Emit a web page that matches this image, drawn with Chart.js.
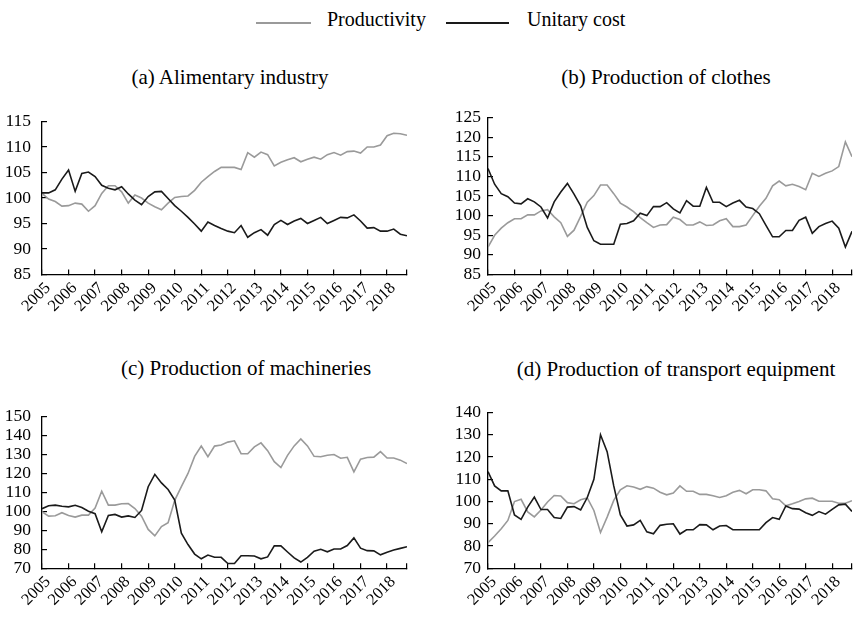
<!DOCTYPE html>
<html>
<head>
<meta charset="utf-8">
<script src="https://cdn.jsdelivr.net/npm/chart.js@4.4.1/dist/chart.umd.min.js"></script>
<style>
  html, body { margin: 0; padding: 0; background: #fff; }
  body { width: 858px; height: 620px; overflow: hidden; position: relative; font-family: "Liberation Serif", "Times New Roman", serif; color: #000; }
  canvas { position: absolute; }
  .title { position: absolute; font-size: 21px; white-space: nowrap; transform: translate(-50%, -50%); }
  .legend { position: absolute; top: 6px; left: 0; width: 858px; height: 24px; font-size: 20px; }
  .legend .sw { position: absolute; top: 16px; height: 2px; }
  .legend .tx { position: absolute; top: 2px; white-space: nowrap; }
</style>
</head>
<body>
<div class="legend">
  <div class="sw" style="left:256px;width:55px;background:#9a9a9a;"></div>
  <div class="tx" style="left:327px;">Productivity</div>
  <div class="sw" style="left:446px;width:63px;background:#1a1a1a;"></div>
  <div class="tx" style="left:527px;">Unitary cost</div>
</div>
<div class="title" style="left:230px;top:77px;">(a) Alimentary industry</div>
<div class="title" style="left:666px;top:77px;">(b) Production of clothes</div>
<div class="title" style="left:246px;top:368px;">(c) Production of machineries</div>
<div class="title" style="left:676px;top:369px;">(d) Production of transport equipment</div>

<canvas id="cA" width="430" height="240" style="left:0px;top:95px;"></canvas>
<canvas id="cB" width="445" height="240" style="left:430px;top:95px;"></canvas>
<canvas id="cC" width="430" height="240" style="left:0px;top:390px;"></canvas>
<canvas id="cD" width="445" height="240" style="left:430px;top:390px;"></canvas>

<script>
// Tick labels (years); data are quarterly, 2005 Q1 .. 2018 Q4
const years = [2005, 2006, 2007, 2008, 2009, 2010, 2011, 2012, 2013, 2014, 2015, 2016, 2017, 2018];
const quarters = [0, 0.25, 0.5, 0.75];

// (a) Alimentary industry
const productivityA = [100.9, 99.8, 99.3, 98.4, 98.5, 99, 98.8, 97.4, 98.5, 100.9,
  102.4, 102.4, 101.2, 99, 100.6, 100, 99, 98.3, 97.7, 99,
  100.1, 100.3, 100.4, 101.5, 103.1, 104.2, 105.2, 106, 106, 106,
  105.6, 108.9, 108, 109, 108.5, 106.3, 107, 107.5, 107.9, 107.1,
  107.6, 108, 107.6, 108.5, 108.9, 108.4, 109.1, 109.2, 108.8, 110,
  110, 110.4, 112.2, 112.7, 112.6, 112.3];
const unitaryCostA = [101, 101, 101.6, 103.7, 105.5, 101.3, 104.8, 105.1, 104.2, 102.5,
  101.9, 101.6, 102.2, 100.8, 99.6, 98.7, 100.3, 101.2, 101.3, 99.9,
  98.5, 97.4, 96.2, 94.9, 93.5, 95.3, 94.6, 94.0, 93.5, 93.2,
  94.6, 92.3, 93.2, 93.8, 92.7, 94.8, 95.6, 94.8, 95.5, 96,
  95, 95.6, 96.2, 95, 95.6, 96.2, 96.1, 96.7, 95.5, 94.1,
  94.2, 93.5, 93.5, 93.9, 92.9, 92.6];

// (b) Production of clothes
const productivityB = [92, 95, 96.8, 98.2, 99.2, 99.2, 100.2, 100.2, 101.2, 101.5,
  99.7, 98.2, 94.7, 96.3, 99.8, 103.4, 105.1, 107.8, 107.8, 105.6,
  103.2, 102.2, 101, 99.5, 98.2, 97, 97.6, 97.7, 99.6, 99,
  97.6, 97.6, 98.4, 97.5, 97.6, 98.7, 99.2, 97.2, 97.2, 97.6,
  100, 102.4, 104.4, 107.6, 108.8, 107.6, 108, 107.4, 106.6, 110.8,
  110, 110.8, 111.4, 112.5, 118.8, 115];
const unitaryCostB = [112, 108, 105.6, 104.8, 103.2, 103, 104.3, 103.5, 102.2, 99.4,
  103.5, 106, 108.2, 105.5, 102.5, 97, 93.6, 92.7, 92.7, 92.7,
  97.8, 98, 98.7, 100.6, 100, 102.3, 102.3, 103.3, 101.7, 100.7,
  103.8, 102.4, 102.4, 107.2, 103.4, 103.4, 102.3, 103.2, 103.9, 102.2,
  101.8, 100.5, 97.5, 94.6, 94.6, 96.2, 96.2, 98.8, 99.6, 95.5,
  97.2, 98, 98.6, 96.8, 92, 96];

// (c) Production of machineries
const productivityC = [99.8, 97.5, 97.7, 99.3, 97.8, 97, 98, 98, 101.7, 110.6,
  103.3, 103.3, 104, 104.1, 101.5, 97.5, 90.5, 87.1, 92, 94,
  105.8, 113, 120, 129, 134.4, 128.8, 134.4, 135, 136.5, 137.2,
  130.4, 130.4, 134, 136.1, 132, 126.2, 123.1, 129.5, 134.5, 138.2,
  134.5, 129, 128.8, 129.6, 130, 128, 128.5, 120.8, 127.5, 128.4,
  128.6, 131.5, 128.1, 128.1, 127, 125.2];
const unitaryCostC = [101.4, 103, 103.3, 102.7, 102.4, 103.2, 102, 100.1, 98.8, 89.2,
  97.8, 98.4, 97, 97.6, 96.8, 100.5, 113, 119.5, 115, 111.5,
  106, 88.5, 82.5, 77.5, 75, 77, 75.8, 75.8, 72.5, 72.5,
  76.6, 76.6, 76.5, 75, 76, 81.8, 81.8, 78.6, 75.5, 73.3,
  75.8, 79, 80, 78.7, 80.2, 80.2, 82, 86, 80.6, 79.3,
  79.2, 77.1, 78.5, 79.6, 80.5, 81.4];

// (d) Production of transport equipment
const productivityD = [81.5, 84.5, 87.8, 91.5, 100, 101, 95.3, 93.1, 96.2, 99.8,
  102.7, 102.5, 99.5, 99, 100.8, 101.6, 96, 86.1, 93, 100.5,
  105.3, 107.1, 106.5, 105.5, 106.7, 106, 104.2, 103, 103.8, 107,
  104.6, 104.6, 103.2, 103.2, 102.6, 101.8, 102.6, 104.2, 105, 103.5,
  105.3, 105.3, 104.8, 101.2, 100.8, 98.1, 99, 100, 101.2, 101.5,
  100.1, 100.1, 100.1, 99.2, 99.2, 100.4];
const unitaryCostD = [113.4, 107, 104.8, 104.8, 94, 92, 97.5, 102, 96.4, 96.4,
  92.8, 92.4, 97.5, 97.7, 96.2, 101.8, 110, 130, 122.4, 107,
  94, 89, 89.5, 91.5, 86.4, 85.5, 89.3, 89.8, 90, 85.4,
  87.3, 87.3, 89.6, 89.5, 87.3, 89, 89.2, 87.3, 87.3, 87.3,
  87.3, 87.3, 90.5, 92.8, 92, 98, 96.8, 96.6, 95, 93.8,
  95.5, 94.3, 96.5, 98.5, 98.8, 95.5];

const periods = [];
years.forEach(y => quarters.forEach(q => periods.push(y + q)));
const xMin = years[0];
const xMax = years[years.length - 1] + quarters[quarters.length - 1];

const FONT = '"Liberation Serif", "Times New Roman", serif';
const GRAY = '#9a9a9a';
const BLACK = '#1a1a1a';

function pts(vals) { return vals.map((v, i) => ({ x: periods[i], y: v })); }

function makeChart(id, prod, cost, yMin, yMax, yStep, yWidth, yPad, padTop, xHeight) {
  new Chart(document.getElementById(id), {
    type: 'line',
    data: {
      datasets: [
        { label: 'Unitary cost', data: pts(cost), borderColor: BLACK, borderWidth: 1.6, pointRadius: 0, tension: 0, order: 0 },
        { label: 'Productivity', data: pts(prod), borderColor: GRAY, borderWidth: 1.6, pointRadius: 0, tension: 0, order: 1 }
      ]
    },
    options: {
      responsive: false,
      animation: false,
      events: [],
      layout: { padding: { top: padTop, right: 19, bottom: 0, left: 0 } },
      plugins: { legend: { display: false }, title: { display: false }, tooltip: { enabled: false } },
      scales: {
        x: {
          type: 'linear',
          min: xMin,
          max: xMax,
          afterBuildTicks: s => { s.ticks = years.map(v => ({ value: v })).concat([{ value: xMax }]); },
          afterFit: s => { s.height = xHeight; },
          grid: { display: true, drawOnChartArea: false, drawTicks: true, tickLength: -5, color: '#000', lineWidth: 1.2 },
          border: { display: true, color: '#000', width: 1.3 },
          ticks: {
            autoSkip: false,
            minRotation: 45,
            maxRotation: 45,
            padding: 9,
            labelOffset: 6,
            color: '#000',
            font: { family: FONT, size: 16.5 },
            callback: v => (Number.isInteger(v) ? String(v) : '')
          }
        },
        y: {
          type: 'linear',
          min: yMin,
          max: yMax,
          afterFit: s => { s.width = yWidth; },
          grid: { display: true, drawOnChartArea: false, drawTicks: true, tickLength: -5, color: '#000', lineWidth: 1.2 },
          border: { display: true, color: '#000', width: 1.3 },
          ticks: { autoSkip: false, stepSize: yStep, padding: yPad, color: '#000', font: { family: FONT, size: 17.5 } }
        }
      }
    }
  });
}

makeChart('cA', productivityA, unitaryCostA, 85, 115, 5, 42, 16, 14.5, 60.5);
makeChart('cB', productivityB, unitaryCostB, 85, 125, 5, 58, 12, 14.5, 60.5);
makeChart('cC', productivityC, unitaryCostC, 70, 150, 10, 42, 16, 14, 61.7);
makeChart('cD', productivityD, unitaryCostD, 70, 140, 10, 58, 12, 12.3, 61.7);
</script>
</body>
</html>
